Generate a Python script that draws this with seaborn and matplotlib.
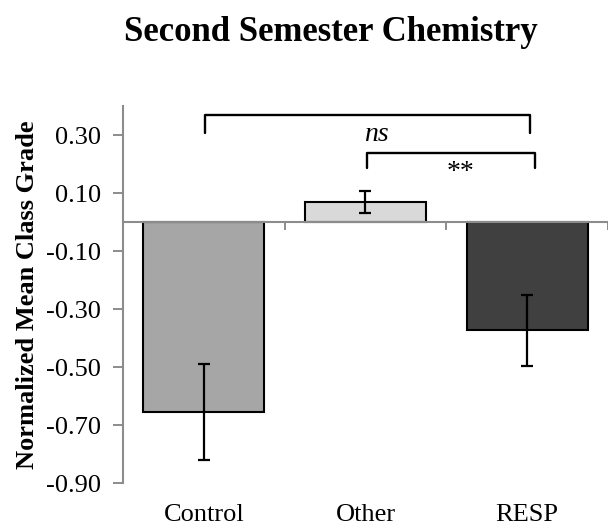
import matplotlib
matplotlib.use("Agg")
import matplotlib.pyplot as plt
import seaborn as sns
import pandas as pd
import numpy as np

categories = ["Control", "Other", "RESP"]
means = [-0.655, 0.069, -0.373]
errors = [0.164, 0.037, 0.123]
colors = ["#a6a6a6", "#d9d9d9", "#404040"]
yticks = [0.30, 0.10, -0.10, -0.30, -0.50, -0.70, -0.90]

# significance brackets: (x_start, x_end, y_top, y_end, label, label_x, label_y, italic)
brackets = [
    (0.01, 2.02, 0.368, 0.306, "ns", 1.07, 0.302, True),
    (1.01, 2.05, 0.238, 0.186, "**", 1.59, 0.170, False),
]

sns.set_style("white", {"xtick.bottom": True, "ytick.left": True,
                        "text.color": "black", "axes.labelcolor": "black",
                        "xtick.color": "black", "ytick.color": "black"})
plt.rcParams["font.family"] = ["Liberation Serif", "DejaVu Serif"]
plt.rcParams["axes.unicode_minus"] = False

df = pd.DataFrame({"group": categories, "value": means})

fig = plt.figure(figsize=(6.08, 5.25), dpi=100)
ax = fig.add_axes([0.2023, 0.08, 0.7977, 0.718])

sns.barplot(data=df, x="group", y="value", hue="group", palette=colors,
            order=categories, width=0.75, edgecolor="black", linewidth=1.5,
            legend=False, ax=ax)
ax.errorbar(np.arange(len(categories)), means, yerr=errors, fmt="none",
            ecolor="black", elinewidth=1.6, capsize=4.5, capthick=1.6, zorder=5)

grey = "#8c8c8c"
ax.set_xlim(-0.5, 2.5)
ax.set_ylim(-0.90, 0.40)
ax.set_yticks(yticks)
ax.set_yticklabels([f"{v:.2f}" for v in yticks], fontsize=19, color="black")
ax.tick_params(axis="y", direction="out", length=7, width=1.4, color=grey, pad=9)

for s in ["top", "right"]:
    ax.spines[s].set_visible(False)
ax.spines["left"].set_color(grey)
ax.spines["left"].set_linewidth(1.5)
ax.spines["bottom"].set_position(("data", 0))
ax.spines["bottom"].set_color(grey)
ax.spines["bottom"].set_linewidth(1.5)
ax.spines["bottom"].set_zorder(6)

ax.set_xticks([0.5, 1.5, 2.5])
ax.set_xticklabels([])
ax.tick_params(axis="x", direction="out", length=6, width=1.4, color=grey)
ax.set_xlabel("")

sec = ax.secondary_xaxis("bottom")
sec.set_xticks(np.arange(len(categories)))
sec.set_xticklabels(categories, fontsize=19, color="black")
sec.tick_params(length=0, pad=15)
sec.spines["bottom"].set_visible(False)

ax.set_ylabel("Normalized Mean Class Grade", fontsize=19, fontweight="bold",
              color="black")
ax.yaxis.set_label_coords(-0.173, 0.50)

for x0, x1, ytop, yend, lab, lx, ly, it in brackets:
    ax.plot([x0, x0, x1, x1], [yend, ytop, ytop, yend], color="black",
            lw=1.7, solid_joinstyle="round", clip_on=False)
    ax.text(lx, ly, lab, ha="center", va="center", fontsize=20, color="black",
            style="italic" if it else "normal")

fig.text(0.545, 0.938, "Second Semester Chemistry", ha="center", va="center",
         fontsize=25, fontweight="bold", color="black")

fig.savefig("out.png", dpi=100)
